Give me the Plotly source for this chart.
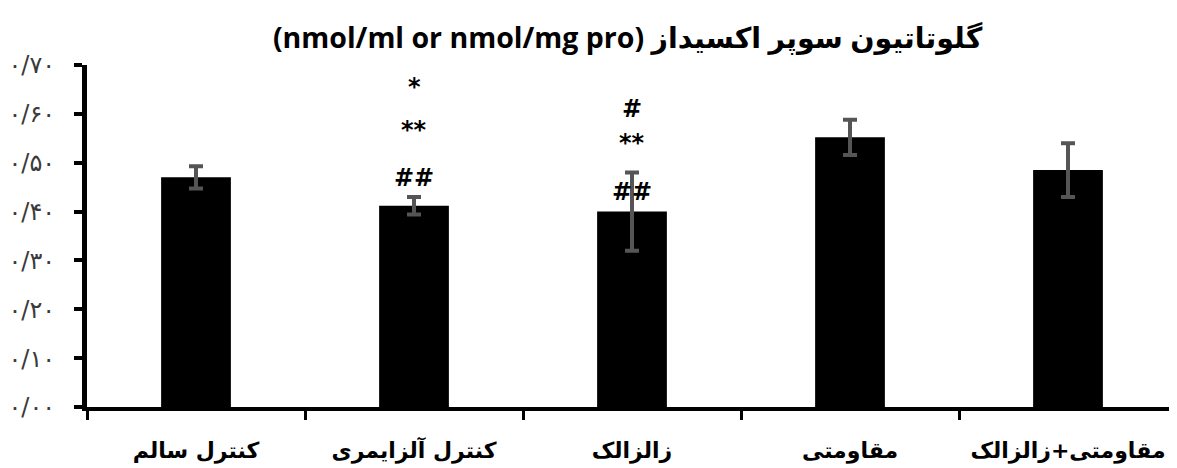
import plotly.graph_objects as go

categories = ["کنترل سالم", "کنترل آلزایمری", "زالزالک", "مقاومتی", "مقاومتی+زالزالک"]
values = [0.47, 0.412, 0.40, 0.552, 0.485]
errors = [0.023, 0.018, 0.08, 0.036, 0.055]
tick_vals = [0.0, 0.1, 0.2, 0.3, 0.4, 0.5, 0.6, 0.7]
tick_text = ["۰/۰۰", "۰/۱۰", "۰/۲۰", "۰/۳۰", "۰/۴۰", "۰/۵۰", "۰/۶۰", "۰/۷۰"]
title_fa = "گلوتاتیون سوپر اکسیداز"
title_en = "(nmol/ml or nmol/mg pro)"

# significance marks: (category index, text, y in data units)
marks = [
    (1, "##", 0.469),
    (1, "**", 0.566),
    (1, "*", 0.655),
    (2, "##", 0.44),
    (2, "**", 0.54),
    (2, "#", 0.61),
]

fig = go.Figure()
fig.add_trace(go.Bar(
    x=categories, y=values,
    marker=dict(color="black", line=dict(width=0)),
    width=0.32,
    error_y=dict(type="data", array=errors, visible=True,
                 color="#555555", thickness=4, width=7),
))

for idx, txt, yv in marks:
    fig.add_annotation(x=categories[idx], y=yv, text="<b>" + txt + "</b>", showarrow=False,
                       font=dict(size=24, color="black", family="DejaVu Sans"),
                       xanchor="center", yanchor="middle")

# visual order as in the reference: English block on the left, Persian on the right
title_html = "<b>\u200e" + title_en + "\u200e " + title_fa + "</b>"

# the page body adds an 8px offset, so the figure is 8px smaller
fig.update_layout(
    width=1169, height=460,
    margin=dict(l=79, r=0, t=57, b=61, autoexpand=False),
    paper_bgcolor="white", plot_bgcolor="white",
    showlegend=False,
    title=dict(text=title_html, x=0.530, xanchor="center",
               y=0.935, yanchor="middle",
               font=dict(size=28.5, color="black", family="Open Sans, DejaVu Sans")),
    font=dict(family="DejaVu Sans", color="black"),
)
fig.update_xaxes(
    showline=True, linecolor="black", linewidth=4,
    ticks="outside", tickson="boundaries", ticklen=9, tickwidth=3, tickcolor="black",
    tickfont=dict(size=22, color="black", family="DejaVu Sans"),
    tickprefix="<b>", ticksuffix="</b>", ticklabelstandoff=21,
    showgrid=False, zeroline=False, automargin=False,
)
fig.update_yaxes(
    range=[0, 0.70], tickvals=tick_vals, ticktext=tick_text,
    showline=True, linecolor="black", linewidth=5,
    ticks="outside", ticklen=8, tickwidth=4, tickcolor="black",
    tickfont=dict(size=24, color="#3a3a3a", family="DejaVu Sans"),
    ticklabelstandoff=14,
    showgrid=False, zeroline=False, automargin=False,
)

fig.write_html("out.html")
